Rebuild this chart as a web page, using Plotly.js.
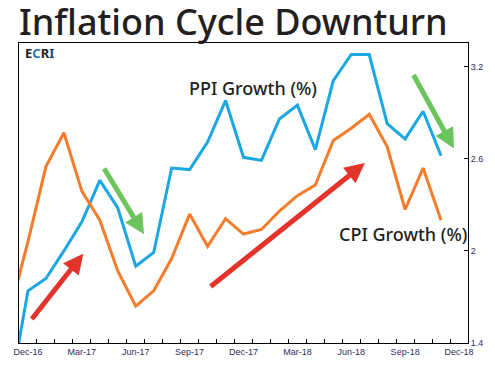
<!DOCTYPE html>
<html><head><meta charset="utf-8">
<script src="https://cdn.plot.ly/plotly-3.0.1.min.js"></script>
<style>html,body{margin:0;padding:0;background:#fff;}#chart{width:495px;height:365px;}</style>
</head><body><div id="chart"></div>
<script>
const months = ['Nov-16','Dec-16','Jan-17','Feb-17','Mar-17','Apr-17','May-17','Jun-17','Jul-17','Aug-17','Sep-17','Oct-17','Nov-17','Dec-17',
  'Jan-18','Feb-18','Mar-18','Apr-18','May-18','Jun-18','Jul-18','Aug-18','Sep-18','Oct-18','Nov-18','Dec-18'];
const ppiGrowth = [1.08,1.74,1.82,2.00,2.19,2.46,2.28,1.90,1.99,2.54,2.53,2.71,2.98,2.61,2.59,2.86,2.95,2.66,3.11,3.28,3.28,2.83,2.73,2.91,2.62,null];
const cpiGrowth = [1.61,2.06,2.55,2.77,2.39,2.20,1.87,1.64,1.74,1.95,2.24,2.03,2.21,2.11,2.14,2.26,2.36,2.43,2.72,2.80,2.89,2.68,2.27,2.54,2.20,null];
const tickLabels = ['','Dec-16','','','Mar-17','','','Jun-17','','','Sep-17','','','Dec-17','','','Mar-18','','','Jun-18','','','Sep-18','','','Dec-18'];
const yTicks = [1.4, 2, 2.6, 3.2];

const titleFont = 'Noto Sans, Open Sans, sans-serif';
const textColor = '#231f20';

const traces = [
  {x: months, y: ppiGrowth, type: 'scatter', mode: 'lines', line: {color: '#1ba6e4', width: 3}, cliponaxis: true, hoverinfo: 'skip'},
  {x: months, y: cpiGrowth, type: 'scatter', mode: 'lines', line: {color: '#f47c2c', width: 3}, cliponaxis: true, hoverinfo: 'skip'}
];

function arrow(x, y, ax, ay, color) {
  return {x: x, y: y, ax: ax, ay: ay, xref: 'x', yref: 'y', axref: 'x', ayref: 'y',
    text: '', showarrow: true, arrowhead: 2, arrowsize: 0.8, arrowwidth: 5, arrowcolor: color, standoff: 0};
}

const layout = {
  width: 495, height: 365,
  margin: {l: 19, r: 27, t: 43, b: 22, pad: 0},
  paper_bgcolor: '#fff', plot_bgcolor: '#fff',
  showlegend: false,
  title: {text: 'Inflation Cycle Downturn', font: {family: titleFont, size: 36, weight: 500, color: textColor},
    xref: 'paper', x: 0, xanchor: 'left', yref: 'container', y: 1 - 22.5/365, yanchor: 'middle'},
  xaxis: {
    type: 'category', range: [0.5, 25.5], tickmode: 'array', tickvals: months, ticktext: tickLabels,
    tickson: 'boundaries', ticks: 'inside', ticklen: 4, tickcolor: '#000', tickwidth: 1, tickangle: 0,
    showline: true, linecolor: '#000', linewidth: 1, mirror: true, showgrid: false, zeroline: false,
    tickfont: {family: 'Liberation Sans, Arial, sans-serif', size: 9, color: '#2e2c5c'}
  },
  yaxis: {
    side: 'right', range: [1.4, 3.355], tickmode: 'array', tickvals: yTicks, ticktext: yTicks.map(String),
    ticks: 'inside', ticklen: 4, tickcolor: '#000', tickwidth: 1,
    showline: true, linecolor: '#000', linewidth: 1, mirror: true, showgrid: false, zeroline: false,
    tickfont: {family: 'Liberation Sans, Arial, sans-serif', size: 9, color: '#2e2c5c'}
  },
  annotations: [
    {xref: 'paper', yref: 'paper', x: 0.374, y: 0.849, xanchor: 'left', yanchor: 'middle', showarrow: false,
      text: 'PPI Growth (%)', font: {family: titleFont, size: 18, weight: 500, color: textColor}},
    {xref: 'paper', yref: 'paper', x: 0.708, y: 0.362, xanchor: 'left', yanchor: 'middle', showarrow: false,
      text: 'CPI Growth (%)', font: {family: titleFont, size: 18, weight: 500, color: textColor}},
    {xref: 'paper', yref: 'paper', x: 0.008, y: 0.966, xanchor: 'left', yanchor: 'middle', showarrow: false,
      text: '<b><span style="color:#231f20">E</span><span style="color:#1b75bc">C</span><span style="color:#231f20">R</span><span style="color:#1c3f7a">I</span></b>',
      font: {family: 'Noto Sans, sans-serif', size: 13, color: textColor}},
    arrow(4.08, 1.982, 1.15, 1.547, '#e3342c'),
    arrow(7.46, 2.108, 5.19, 2.547, '#6cc55c'),
    arrow(19.76, 2.573, 11.09, 1.760, '#e3342c'),
    arrow(24.72, 2.667, 22.42, 3.156, '#6cc55c')
  ]
};

Plotly.newPlot('chart', traces, layout, {displayModeBar: false, staticPlot: true});
</script></body></html>
